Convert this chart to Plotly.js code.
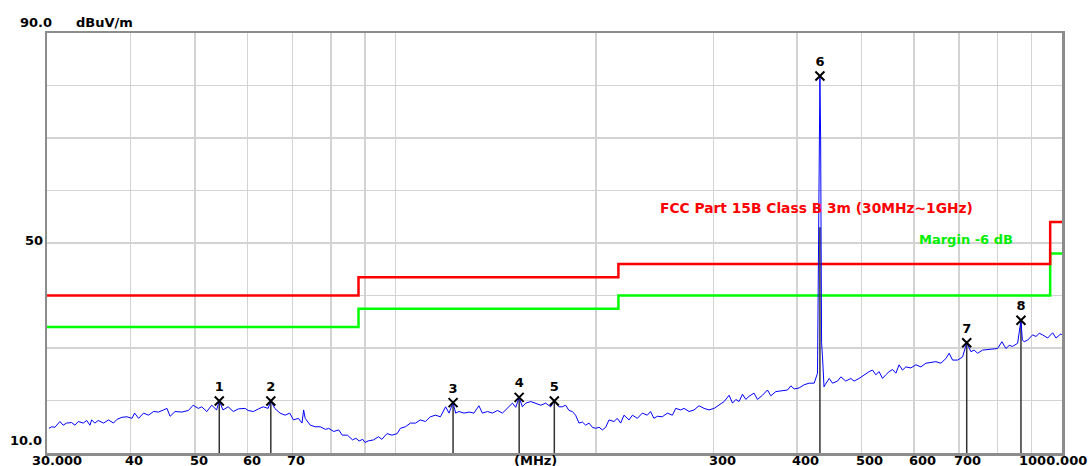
<!DOCTYPE html>
<html>
<head>
<meta charset="utf-8">
<script src="https://cdn.plot.ly/plotly-3.0.1.min.js"></script>
<style>
html,body{margin:0;padding:0;background:#fff;}
#chart{width:1089px;height:466px;}
</style>
</head>
<body>
<div id="chart"></div>
<script>
// ---- Data ----
const traceFreq = [30.2,30.5,30.83,31.37,31.72,32.1,32.66,33.04,33.42,34.0,34.41,34.8,35.0,35.4,35.8,36.47,37.1,37.75,38.2,38.86,39.54,40.23,40.6,41.17,41.88,42.6,43.35,44.1,44.88,45.4,45.9,46.7,47.8,48.9,49.7,50.6,51.2,52.1,53.0,53.9,54.4,55.1,56.1,57.1,58.1,59.5,60.1,61.2,62.3,63.3,64.4,65.0,65.9,67.1,68.3,69.4,70.3,71.5,72.4,72.8,73.2,74.5,75.8,77.1,78.5,79.4,80.8,82.2,83.2,84.7,86.2,87.2,88.2,89.3,90.0,91.0,92.7,94.3,95.4,97.1,98.8,100.6,101.7,103.5,105.3,107.2,108.9,110.9,112.8,114.8,116.8,118.9,120.3,122.0,123.1,124.5,126.7,128.9,131.1,133.4,135.0,137.4,139.8,142.2,144.7,147.2,149.8,151.5,153.3,155.0,156.8,159.6,162.3,165.2,168.0,170.9,173.1,175.9,177.9,180.0,182.1,184.2,186.3,188.5,190.7,192.9,195.1,197.4,199.7,202.0,204.4,206.7,209.1,212.7,215.2,217.7,220.2,224.1,226.7,230.6,234.6,238.7,241.4,244.2,247.1,251.4,255.8,260.3,263.3,267.9,270.9,275.7,280.5,285.4,290.4,295.4,300.6,305.9,311.2,316.6,320.4,324.1,327.7,331.6,335.4,339.2,345.1,349.2,355.3,361.5,365.7,372.1,380.7,387.4,391.9,396.4,403.3,410.3,417.5,424.8,429.7,432.0,433.3,434.4,435.8,437.2,439.5,441.2,447.4,452.6,460.5,465.8,473.9,482.2,487.6,496.1,504.8,513.6,519.6,525.6,531.6,537.9,544.1,550.3,556.8,563.3,569.6,576.4,583.1,593.3,603.6,614.1,624.8,635.7,646.8,658.1,669.5,677.2,685.2,697.1,709.3,719.5,730.0,738.3,747.0,760.1,773.3,786.8,800.5,812.6,823.9,833.3,843.2,857.8,867.8,872.0,877.6,888.0,903.5,914.0,924.4,935.3,951.6,968.2,979.4,996.4,1000];
const traceLevel = [14.7,15.0,14.9,16.0,15.3,15.7,15.8,15.3,16.0,15.7,16.2,15.3,16.3,15.7,16.2,15.7,16.3,15.7,16.4,16.8,16.9,16.6,17.6,16.6,17.6,17.2,17.9,17.8,18.2,18.5,17.0,17.9,17.8,18.1,19.1,18.5,18.8,17.9,19.1,18.2,19.9,18.2,18.8,17.9,18.4,18.5,18.1,17.9,18.4,18.8,18.5,19.9,18.5,17.6,17.2,17.6,16.3,16.6,15.7,18.2,16.6,15.3,15.0,15.0,14.5,14.7,14.1,14.4,13.4,13.4,12.5,12.8,12.3,12.6,12.0,12.3,12.5,13.1,12.6,13.7,13.4,13.7,14.7,15.0,15.7,15.7,16.3,16.0,16.9,17.2,16.9,18.8,17.6,19.6,17.6,17.9,17.6,17.8,17.6,19.0,17.6,17.9,17.6,18.1,17.6,18.5,19.5,18.7,20.6,18.8,19.5,19.8,19.5,19.1,19.5,18.8,19.9,18.8,18.8,19.1,18.1,17.9,17.2,15.7,15.9,15.3,15.7,14.9,14.7,14.9,14.4,14.9,16.3,16.0,16.6,15.7,17.2,16.3,17.2,16.6,17.6,17.2,17.9,16.6,17.0,16.9,17.6,17.2,18.5,18.2,18.5,17.9,18.2,19.0,18.5,18.2,18.5,19.1,19.8,21.0,19.5,20.2,19.8,21.2,20.2,20.8,21.4,20.2,21.0,22.0,20.9,21.7,21.9,22.0,22.8,22.2,22.4,23.0,23.3,23.3,25.2,53.0,81.8,69.6,31.0,28.3,22.6,23.0,24.2,23.3,23.7,24.5,23.7,24.2,23.7,24.2,24.9,25.5,25.8,24.9,25.5,24.2,24.9,25.5,25.9,25.2,26.8,25.8,26.4,26.2,26.8,26.4,27.1,27.2,27.4,27.1,28.0,29.0,27.7,27.7,28.3,31.0,29.3,29.6,29.0,29.6,29.7,29.9,29.9,31.2,29.9,30.5,30.3,30.9,35.3,31.5,31.2,31.5,32.5,32.2,32.8,32.5,31.9,32.9,31.9,32.7,32.5];

const limitFreq  = [30, 88, 216, 960, 1000];
const limitLevel = [40, 43.5, 46, 54, 54];
const marginLevel = [34, 37.5, 40, 48, 48];

const markerNo    = ["1","2","3","4","5","6","7","8"];
const markerFreq  = [54.4, 65.0, 122.0, 153.3, 173.1, 433.3, 719.5, 867.8];
const markerLevel = [19.9, 19.9, 19.6, 20.6, 19.9, 81.8, 31.0, 35.3];
const stemTop     = [19.9, 19.9, 19.6, 20.6, 19.9, 53.0, 31.0, 35.3];

const gridFreq = [40,50,60,70,80,90,100,200,300,400,500,600,700,800,900];
const xLabelFreq = [40,50,60,70,300,400,500,600,700];
const xLabelText = ["40","50","60","70","300","400","500","600","700"];
const yLabelVal  = [90, 50, 10];
const yLabelText = ["90.0", "50", "10.0"];
const yUnit = "dBuV/m";
const xUnit = "(MHz)";
const limitName = "FCC Part 15B Class B 3m (30MHz~1GHz)";
const marginName = "Margin -6 dB";

// ---- Build traces ----
const FONT = "DejaVu Sans";
const stemX = [], stemY = [];
markerFreq.forEach((f, i) => { stemX.push(f, f, null); stemY.push(10, stemTop[i], null); });

const traces = [
  {x: limitFreq, y: marginLevel, mode: "lines", line: {color: "#00ff00", width: 2.5, shape: "hv"}, hoverinfo: "skip"},
  {x: limitFreq, y: limitLevel, mode: "lines", line: {color: "#ff0000", width: 2.5, shape: "hv"}, hoverinfo: "skip"},
  {x: stemX, y: stemY, mode: "lines", line: {color: "#333333", width: 1.5}, hoverinfo: "skip"},
  {x: traceFreq, y: traceLevel, mode: "lines", line: {color: "#0000ff", width: 1}},
  {x: markerFreq, y: markerLevel, mode: "markers+text", text: markerNo, textposition: "top center",
   textfont: {family: FONT, size: 13, color: "#000", weight: "bold"},
   marker: {symbol: "x-thin", size: 9, line: {color: "#000", width: 2}}, cliponaxis: false}
];

const BOT = 2; // lift bottom labels slightly
const annotations = [];
xLabelFreq.forEach((f, i) => annotations.push({
  x: Math.log10(f), y: 0, xref: "x", yref: "paper", text: "<b>" + xLabelText[i] + "</b>",
  showarrow: false, xanchor: "left", yanchor: "top", xshift: -7, yshift: BOT,
  font: {family: FONT, size: 13, color: "#000"}
}));
annotations.push({x: 0, y: 0, xref: "paper", yref: "paper", text: "<b>30.000</b>", showarrow: false,
  xanchor: "left", yanchor: "top", xshift: -17, yshift: BOT, font: {family: FONT, size: 13, color: "#000"}});
annotations.push({x: 1, y: 0, xref: "paper", yref: "paper", text: "<b>1000.000</b>", showarrow: false,
  xanchor: "left", yanchor: "top", xshift: -45, yshift: BOT, font: {family: FONT, size: 13, color: "#000"}});
annotations.push({x: 0.481, y: 0, xref: "paper", yref: "paper", text: "<b>" + xUnit + "</b>", showarrow: false,
  xanchor: "center", yanchor: "top", yshift: BOT, font: {family: FONT, size: 13, color: "#000"}});
const yShift = [11, 3, 13], xShiftY = [7, -2, -3];
yLabelVal.forEach((v, i) => annotations.push({
  x: 0, y: v, xref: "paper", yref: "y", text: "<b>" + yLabelText[i] + "</b>", showarrow: false,
  xanchor: "right", yanchor: "middle", xshift: xShiftY[i], yshift: yShift[i],
  font: {family: FONT, size: 13, color: "#000"}
}));
annotations.push({x: 0, y: 90, xref: "paper", yref: "y", text: "<b>" + yUnit + "</b>", showarrow: false,
  xanchor: "left", yanchor: "middle", xshift: 27, yshift: 11, font: {family: FONT, size: 13, color: "#000"}});
annotations.push({x: 0.602, y: 56.7, xref: "paper", yref: "y", text: "<b>" + limitName + "</b>", showarrow: false,
  xanchor: "left", yanchor: "middle", font: {family: FONT, size: 13.8, color: "#ff0000"}});
annotations.push({x: 0.857, y: 50.6, xref: "paper", yref: "y", text: "<b>" + marginName + "</b>", showarrow: false,
  xanchor: "left", yanchor: "middle", font: {family: FONT, size: 13, color: "#00ee00"}});

const layout = {
  width: 1089, height: 466,
  margin: {l: 47, r: 27, t: 33, b: 13, pad: 0},
  paper_bgcolor: "#ffffff", plot_bgcolor: "#ffffff",
  showlegend: false,
  xaxis: {type: "log", range: [Math.log10(30), 3], tickvals: gridFreq, showticklabels: false,
    showgrid: true, gridcolor: "#d3d3d3", gridwidth: 1.5, zeroline: false, ticks: "",
    showline: true, mirror: true, linecolor: "#8c8c8c", linewidth: 2.5, fixedrange: true},
  yaxis: {range: [10, 90], dtick: 10, tick0: 10, showticklabels: false,
    showgrid: true, gridcolor: "#d3d3d3", gridwidth: 1.5, zeroline: false, ticks: "",
    showline: true, mirror: true, linecolor: "#8c8c8c", linewidth: 2.5, fixedrange: true},
  annotations: annotations
};

Plotly.newPlot("chart", traces, layout, {displayModeBar: false, staticPlot: true});
</script>
</body>
</html>
